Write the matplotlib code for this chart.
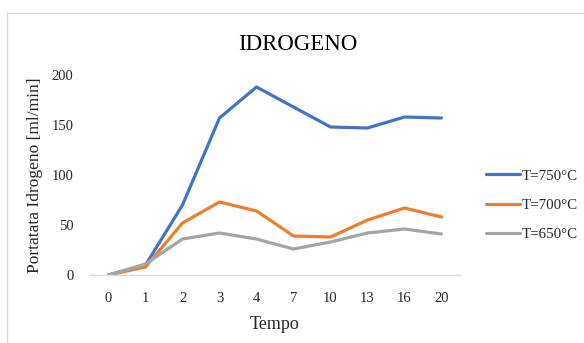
import matplotlib.pyplot as plt
from matplotlib.lines import Line2D

# dati
tempo = ['0', '1', '2', '3', '4', '7', '10', '13', '16', '20']
t750 = [0, 10, 70, 157, 188, 168, 148, 147, 158, 157]
t700 = [0, 8, 52, 73, 64, 39, 38, 55, 67, 58]
t650 = [0, 11, 36, 42, 36, 26, 33, 42, 46, 41]
serie = ['T=750°C', 'T=700°C', 'T=650°C']
colori = ['#4472C4', '#ED7D31', '#A5A5A5']

plt.rcParams['font.family'] = ['Liberation Serif', 'DejaVu Serif']

W, H = 584, 343
fig = plt.figure(figsize=(W / 100, H / 100), dpi=100)
ax = fig.add_axes([90 / W, 1 - 275 / H, 370 / W, 200 / H])

x = range(len(tempo))
for dati, nome, col in zip([t750, t700, t650], serie, colori):
    ax.plot(x, dati, color=col, lw=2.3, label=nome, solid_capstyle='round')

ax.set_xlim(-0.5, len(tempo) - 0.5)
ax.set_ylim(0, 200)
ax.set_yticks([0, 50, 100, 150, 200])
ax.set_xticks(list(x))
ax.set_xticklabels(tempo)
for s in ['top', 'right', 'left']:
    ax.spines[s].set_visible(False)
ax.spines['bottom'].set_color('#D9D9D9')
ax.spines['bottom'].set_linewidth(1)
ax.tick_params(length=0, labelsize=10.5, colors='#262626', pad=12)
ax.tick_params(axis='x', pad=12)

ax.set_xlabel('Tempo', fontsize=13, color='#262626', labelpad=8)
ax.set_ylabel('Portatata Idrogeno [ml/min]', fontsize=12.5, color='#262626', labelpad=6)
fig.text(298 / W, 1 - 44 / H, 'IDROGENO', fontsize=16.5, ha='center', va='center', color='black')

ax.legend(loc='center left', bbox_to_anchor=(472 / W, 1 - 205 / H), bbox_transform=fig.transFigure,
          frameon=False, fontsize=10.8, handlelength=2.3, handletextpad=0.15, labelspacing=1.05,
          labelcolor='#262626')

# cornice del grafico
fig.add_artist(Line2D([7 / W, 1], [1 - 13 / H, 1 - 13 / H], transform=fig.transFigure, color='#D9D9D9', lw=1))
fig.add_artist(Line2D([7 / W, 7 / W], [0, 1 - 13 / H], transform=fig.transFigure, color='#D9D9D9', lw=1))

fig.savefig('out.png', dpi=100)
